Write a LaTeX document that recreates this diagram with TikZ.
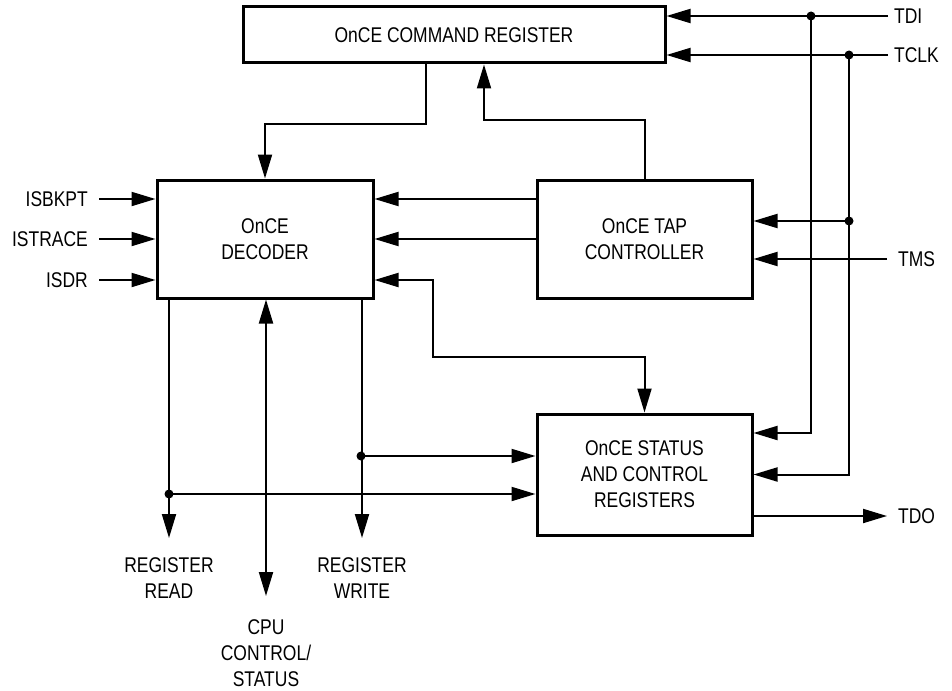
\documentclass[tikz,border=0pt]{standalone}
\usepackage{fontspec}
\setmainfont{Liberation Sans}[FakeStretch=0.82]
\usetikzlibrary{arrows.meta}
\begin{document}
\begin{tikzpicture}[x=1pt,y=-1pt,
  font=\fontsize{21.3}{26}\selectfont,
  blk/.style={draw,line width=3pt,align=center,inner sep=0pt},
  conn/.style={line width=2pt},
  arr/.style={conn,-{Triangle[length=24pt,width=14pt]}},
  arrboth/.style={conn,{Triangle[length=24pt,width=14pt]}-{Triangle[length=24pt,width=14pt]}},
  lbl/.style={align=center,inner sep=0pt},
  dotc/.style={fill,circle,inner sep=0pt,minimum size=9pt}]
\useasboundingbox (0,0) rectangle (952,690);

% blocks
\node[blk,minimum width=422pt,minimum height=56pt] (cmd) at (454,35) {\raisebox{-4pt}{OnCE COMMAND REGISTER}};
\node[blk,minimum width=216pt,minimum height=118pt] (dec) at (265,239) {OnCE\\DECODER};
\node[blk,minimum width=215pt,minimum height=118pt] (tap) at (644.5,239) {OnCE TAP\\CONTROLLER};
\node[blk,minimum width=215pt,minimum height=121pt] (stat) at (644.5,474.5) {OnCE STATUS\\AND CONTROL\\REGISTERS};

% external signal ends
\coordinate (tdi) at (888,16);
\coordinate (tclk) at (888,55);
\coordinate (tms) at (887,259);
\coordinate (tdo) at (887,516);
\coordinate (in1) at (99,199);
\coordinate (in2) at (99,239);
\coordinate (in3) at (99,280);
\coordinate (rdend) at (169,538);
\coordinate (wrend) at (362,538);
\coordinate (cpuend) at (266,596);

% junction dots
\node[dotc] (d1) at (811,16) {};
\node[dotc] (d2) at (849,55) {};
\node[dotc] (d3) at (849,221) {};
\node[dotc] (dw) at (361,456) {};
\node[dotc] (drd) at (169,494) {};

% labels
\node[lbl,anchor=west] (ltdi) at (894,16) {TDI};
\node[lbl,anchor=west] (ltclk) at (894,55) {TCLK};
\node[lbl,anchor=west] (ltms) at (898,259) {TMS};
\node[lbl,anchor=west] (ltdo) at (898,516) {TDO};
\node[lbl,anchor=east] (lin1) at (88,199) {ISBKPT};
\node[lbl,anchor=east] (lin2) at (88,239) {ISTRACE};
\node[lbl,anchor=east] (lin3) at (88,280) {ISDR};
\node[lbl] (lrd) at (169,578) {REGISTER\\READ};
\node[lbl] (lwr) at (362,578) {REGISTER\\WRITE};
\node[lbl] (lcpu) at (266,653) {CPU\\CONTROL/\\STATUS};

% command register <-> decoder / tap
\draw[arr] ([xshift=-28pt]cmd.south) -- ++(0,59) -| (dec.north);
\draw[arr] (tap.north) -- ++(0,-58) -| ([xshift=30pt]cmd.south);

% TDI / TCLK
\draw[arr] (tdi) -- (cmd.east |- tdi);
\draw[arr] (tclk) -- (cmd.east |- tclk);
\draw[arr] (d1.center) |- ([yshift=41.5pt]stat.east);
\draw[arr] (d2.center) |- (stat.east);
\draw[arr] (d3.center) -- (tap.east |- d3);
\draw[arr] (tms) -- (tap.east |- tms);

% decoder inputs
\draw[arr] (in1) -- (dec.west |- in1);
\draw[arr] (in2) -- (dec.west |- in2);
\draw[arr] (in3) -- (dec.west |- in3);

% tap -> decoder
\draw[arr] ([yshift=40pt]tap.west) -- ([yshift=40pt]dec.east);
\draw[arr] (tap.west) -- (dec.east);

% decoder <-> status
\draw[arrboth] ([yshift=-41pt]dec.east) -- ++(58,0) -- ++(0,77) -| (stat.north);

% decoder bottom outputs
\draw[arr] ([xshift=-96pt]dec.south) -- (rdend);
\draw[arr] ([xshift=97pt]dec.south) -- (wrend);
\draw[arrboth] ([xshift=1pt]dec.south) -- (cpuend);
\draw[arr] (dw.center) -- (stat.west |- dw);
\draw[arr] (drd.center) -- (stat.west |- drd);

% TDO
\draw[arr] ([yshift=-41.5pt]stat.east) -- (tdo);
\end{tikzpicture}
\end{document}
